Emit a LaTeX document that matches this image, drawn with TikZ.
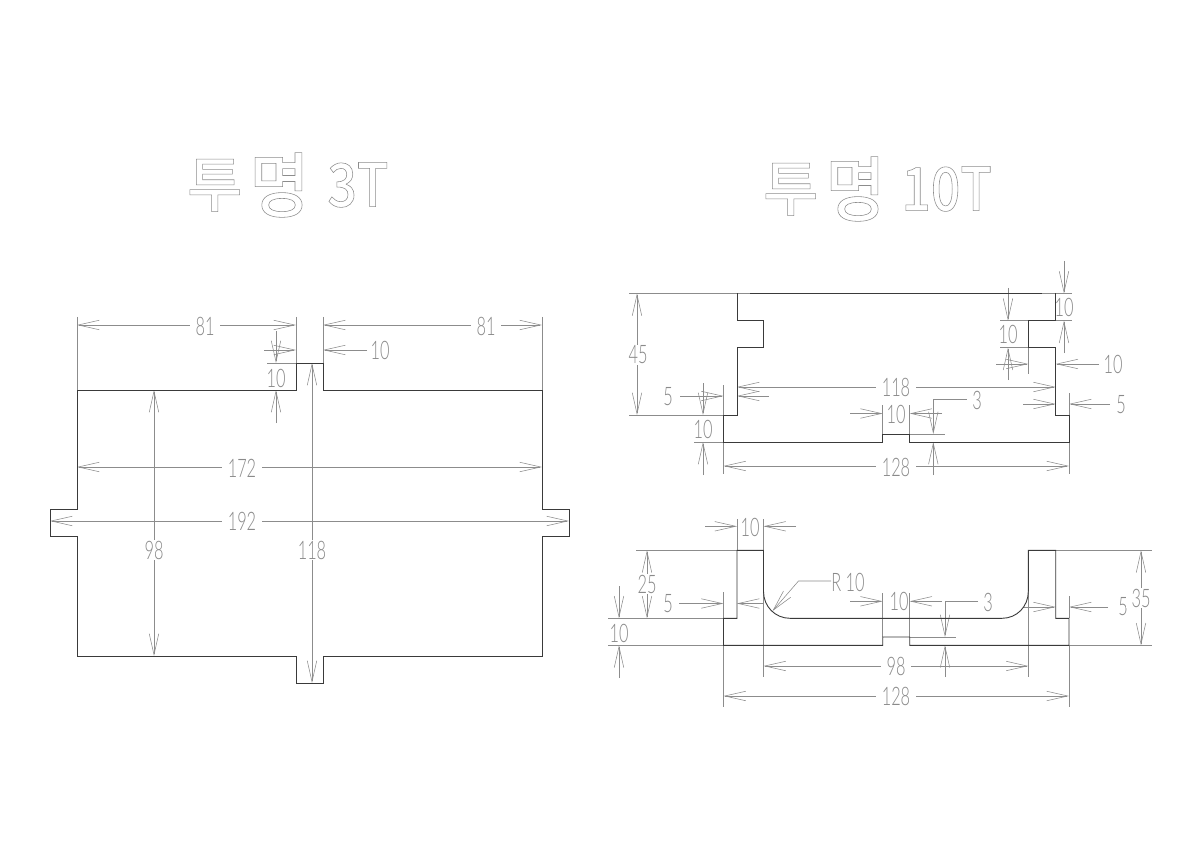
\documentclass[tikz,border=0pt]{standalone}
\usepackage{fontspec}
\usetikzlibrary{arrows.meta}
\newfontfamily\dimfont[FakeStretch=.64]{Lato Light}
\newfontfamily\titlefont{Noto Sans CJK KR Medium}
\newfontfamily\titlefontb[FakeStretch=.92]{Noto Sans CJK KR Medium}
\newfontfamily\titlefontc[FakeStretch=.86]{Noto Sans CJK KR Medium}
\definecolor{prof}{HTML}{3A3A3A}
\definecolor{dimc}{HTML}{8C8C8C}
\definecolor{dimt}{HTML}{8A8A8A}
\newcommand{\outlined}[1]{\special{pdf:code 1 Tr 0.55 w}#1\special{pdf:code 0 Tr}}
\newcommand{\bigmyeong}{\raisebox{-5pt}{\titlefontb\fontsize{71}{71}\selectfont\outlined{명}}}
\newcommand{\narrowlatin}[1]{{\titlefontc\outlined{#1}}}
\tikzset{
  x=1pt,y=-1pt,
  profile/.style={draw=prof,line width=.9pt,line join=miter},
  extl/.style={draw=dimc,line width=.55pt},
  dimline/.style={draw=dimc,line width=.55pt,arrows={-Straight Barb[length=21pt,width=9.5pt,line width=.55pt]}},
  dimboth/.style={draw=dimc,line width=.55pt,arrows={Straight Barb[length=21pt,width=9.5pt,line width=.55pt]-Straight Barb[length=21pt,width=9.5pt,line width=.55pt]}},
  dimlabel/.style={text=dimt,inner sep=0pt,font=\dimfont\fontsize{25.5}{25.5}\selectfont},
  gaplabel/.style={dimlabel,fill=white,inner xsep=6pt,inner ysep=1pt},
  titlelabel/.style={text=dimc,inner sep=0pt,font=\titlefont\fontsize{60}{60}\selectfont},
}
\begin{document}
\begin{tikzpicture}
\useasboundingbox[fill=white] (0,0) rectangle (1202,850);
% titles
\node[titlelabel,anchor=west] (title3) at (187,185) {\outlined{투}\kern7pt\bigmyeong\kern18pt\narrowlatin{3T}};
\node[titlelabel,anchor=west] (title10) at (763,189) {\outlined{투}\kern7pt\bigmyeong\kern16pt\narrowlatin{10T}};

% ---------- left view: extension lines
\draw[extl] (77,317)--(77,390) (296,317)--(296,363) (323,317)--(323,363) (542,317)--(542,390);
\draw[extl] (267,363)--(296,363);
% dimensions
\draw[dimboth] (77,325)--(296,325);
\draw[dimboth] (323,325)--(542,325);
\draw[dimline] (264,350)--(296,350);
\draw[dimline] (367,350)--(323,350);
\draw[dimline] (276,331)--(276,363);
\draw[dimline] (276,423)--(276,390);
\draw[dimboth] (154,390)--(154,656);
\draw[dimboth] (312,363)--(312,683);
\draw[dimboth] (77,467)--(542,467);
\draw[dimboth] (50,521)--(569,521);
\node[gaplabel] (l81a) at (205,326) {81};
\node[gaplabel] (l81b) at (486,326) {81};
\node[dimlabel] (l10a) at (380,350) {10};
\node[dimlabel] (l10b) at (276,378) {10};
\node[gaplabel] (l98) at (154,550) {98};
\node[gaplabel] (l118) at (312,550) {118};
\node[gaplabel] (l172) at (242,468) {172};
\node[gaplabel] (l192) at (242,521) {192};
% outline
\draw[profile] (77,390)--(296,390)--(296,363)--(323,363)--(323,390)--(542,390)--(542,509)--(569,509)--(569,536)--(542,536)--(542,656)--(323,656)--(323,683)--(296,683)--(296,656)--(77,656)--(77,536)--(50,536)--(50,509)--(77,509)--cycle;

% ---------- upper right view
\draw[extl] (629,293.5)--(750,293.5) (1042,293.5)--(1072,293.5) (1056,320.7)--(1072,320.7);
\draw[extl] (629,415)--(723.5,415) (694,442)--(723.5,442);
\draw[extl] (723.5,385)--(723.5,415) (723.5,442)--(723.5,474) (1069,442)--(1069,474) (1069,393)--(1069,415);
\draw[extl] (882.7,405)--(882.7,434) (909.7,405)--(909.7,434) (909.7,434)--(945,434);
\draw[extl] (1000,320.7)--(1028.3,320.7) (1000,347.7)--(1028.3,347.7) (1028.3,347.7)--(1028.3,374);
\draw[dimboth] (637,293.5)--(637,415);
\draw[dimline] (680,396)--(723.5,396);
\draw[dimline] (769,396)--(737,396);
\draw[dimline] (703,383)--(703,415);
\draw[dimline] (703,475)--(703,442);
\draw[dimboth] (737,387)--(1055.7,387);
\draw[dimline] (850,413.5)--(882.7,413.5);
\draw[dimline] (942,413.5)--(909.7,413.5);
\draw[dimline] (966.5,399)--(933.3,399)--(933.3,434);
\draw[dimline] (933.3,475)--(933.3,442);
\draw[dimboth] (723.5,466)--(1069,466);
\draw[dimline] (1064,261)--(1064,293.5);
\draw[dimline] (1064,353)--(1064,320.7);
\draw[dimline] (1008,288)--(1008,320.7);
\draw[dimline] (1008,380)--(1008,347.7);
\draw[dimline] (996,364)--(1028.3,364);
\draw[dimline] (1099,364)--(1055.7,364);
\draw[dimline] (1023,404)--(1055.7,404);
\draw[dimline] (1110,404)--(1069,404);
\node[gaplabel] (u45) at (638,355) {45};
\node[dimlabel] (u5a) at (668,397) {5};
\node[dimlabel] (u10a) at (703,429) {10};
\node[gaplabel] (u118) at (896,387) {118};
\node[dimlabel] (u10b) at (896,414) {10};
\node[dimlabel] (u3) at (977,400) {3};
\node[gaplabel] (u128) at (896,467) {128};
\node[dimlabel] (u10c) at (1064,307) {10};
\node[dimlabel] (u10d) at (1008,334) {10};
\node[dimlabel] (u10e) at (1113,364) {10};
\node[dimlabel] (u5b) at (1121,405) {5};
\draw[profile] (750,293.5)--(1042,293.5);
\draw[profile] (737,293.5)--(737,320.7)--(763.5,320.7)--(763.5,347.7)--(737,347.7)--(737,415)--(723.5,415)--(723.5,442)--(882.7,442)--(882.7,434)--(909.7,434)--(909.7,442)--(1069,442)--(1069,415)--(1055.7,415)--(1055.7,347.7)--(1028.3,347.7)--(1028.3,320.7)--(1055.7,320.7)--(1055.7,293.5);

% ---------- lower right view
\draw[extl] (737,519)--(737,550.3) (763.5,519)--(763.5,677) (1028.3,592)--(1028.3,677);
\draw[extl] (636,550.3)--(737,550.3) (1055.7,550.3)--(1152,550.3);
\draw[extl] (608,618.3)--(723.5,618.3) (608,645.3)--(723.5,645.3) (1069,645.3)--(1152,645.3);
\draw[extl] (723.5,592)--(723.5,618.3) (723.5,645.3)--(723.5,707) (1069,645.3)--(1069,707) (1069,596)--(1069,618.3);
\draw[extl] (882.7,593)--(882.7,637) (909.7,593)--(909.7,637) (909.7,637)--(956,637);
\draw[dimline] (705,526.3)--(737,526.3);
\draw[dimline] (796,526.3)--(763.5,526.3);
\draw[dimboth] (647,550.3)--(647,618.3);
\draw[dimline] (619,586)--(619,618.3);
\draw[dimline] (619,678)--(619,645.3);
\draw[dimline] (679,603.5)--(723.5,603.5);
\draw[dimline] (763.5,603.5)--(737,603.5);
\draw[dimline] (831,581)--(798.5,581)--(772.5,611);
\draw[dimboth] (763.5,666)--(1028.3,666);
\draw[dimboth] (723.5,696)--(1069,696);
\draw[dimline] (850,601.3)--(882.7,601.3);
\draw[dimline] (942,601.3)--(909.7,601.3);
\draw[dimline] (978,601.5)--(945,601.5)--(945,637);
\draw[dimline] (945,677)--(945,645.3);
\draw[dimline] (1023,607)--(1055.7,607);
\draw[dimline] (1108,607)--(1069,607);
\draw[dimboth] (1141,550.3)--(1141,645.3);
\node[dimlabel] (b10a) at (750,527) {10};
\node[gaplabel] (b25) at (647,584) {25};
\node[dimlabel] (b10b) at (619,633) {10};
\node[dimlabel] (b5a) at (668,604) {5};
\node[dimlabel] (br) at (848,582) {R 10};
\node[gaplabel] (b98) at (896,666) {98};
\node[gaplabel] (b128) at (896,696) {128};
\node[dimlabel] (b10c) at (899,601) {10};
\node[dimlabel] (b3) at (988,602) {3};
\node[dimlabel] (b5b) at (1123,607) {5};
\node[gaplabel] (b35) at (1141,598) {35};
\draw[profile] (723.5,645.3)--(723.5,618.3)--(737,618.3)--(737,550.3)--(763.5,550.3)--(763.5,591.5)
  .. controls (763.5,606.4) and (775.1,618.3) .. (790,618.3)--(1002,618.3)
  .. controls (1016.9,618.3) and (1028.3,606.4) .. (1028.3,591.5)--(1028.3,550.3)--(1055.7,550.3)--(1055.7,618.3)--(1069,618.3)--(1069,645.3)--(909.7,645.3)--(909.7,637)--(882.7,637)--(882.7,645.3)--cycle;
\end{tikzpicture}
\end{document}
